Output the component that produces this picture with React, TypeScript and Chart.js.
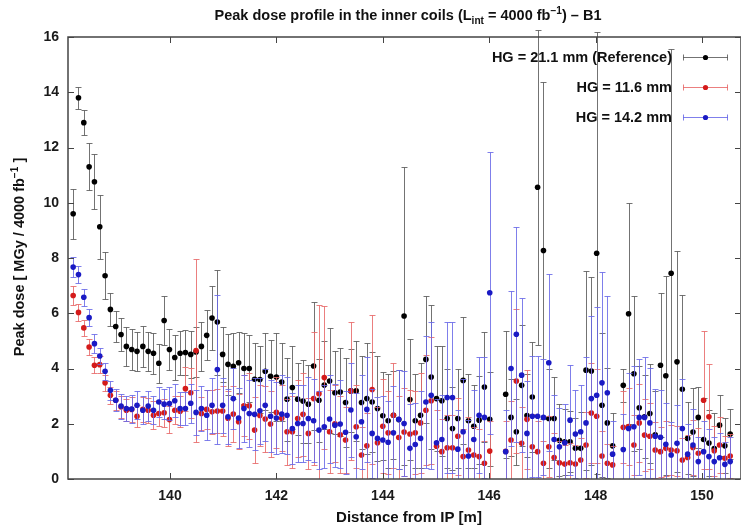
import React, { useEffect, useRef } from "react";
import { Chart, registerables } from "chart.js";

Chart.register(...registerables);

const FONT = '"Liberation Sans", Arial, Helvetica, sans-serif';

// Distance from IP [m] (bin centres); gaps where no values were given
const distances = [
  138.18, 138.28, 138.38, 138.48, 138.58, 138.68, 138.78, 138.88, 138.98, 139.08,
  139.18, 139.28, 139.38, 139.49, 139.59, 139.69, 139.79, 139.89, 139.99, 140.09,
  140.19, 140.29, 140.39, 140.49, 140.59, 140.69, 140.79, 140.89, 140.99, 141.09,
  141.19, 141.29, 141.39, 141.49, 141.59, 141.69, 141.79, 141.89, 142.0, 142.1,
  142.2, 142.3, 142.4, 142.5, 142.6, 142.7, 142.8, 142.9, 143.0, 143.1,
  143.2, 143.3, 143.4, 143.5, 143.6, 143.7, 143.8, 143.9, 144.0, 144.1,
  144.2, 144.3, 144.4, 144.51, 144.61, 144.71, 144.81, 144.91, 145.01, 145.11,
  145.21, 145.31, 145.41, 145.51, 145.61, 145.71, 145.81, 145.91, 146.01,
  146.31, 146.41, 146.51, 146.61, 146.71, 146.81, 146.91, 147.02, 147.12, 147.22,
  147.32, 147.42, 147.52, 147.62, 147.72, 147.82, 147.92, 148.02, 148.12, 148.22, 148.32,
  148.52, 148.62, 148.72, 148.82, 148.92, 149.02, 149.12, 149.22, 149.32, 149.42,
  149.53, 149.63, 149.73, 149.83, 149.93, 150.03, 150.13, 150.23, 150.33, 150.43, 150.53,
];

// HG = 21.1 mm (Reference)
const refDose = [
  9.6, 13.8, 12.9, 11.3, 10.76, 9.13, 7.36, 6.14, 5.52, 5.23,
  4.8, 4.69, 4.62, 4.8, 4.62, 4.55, 4.19, 5.74, 4.69, 4.4,
  4.55, 4.58, 4.51, 4.6, 4.8, 5.2, 5.83, 5.68, 4.51, 4.15,
  4.08, 4.21, 4.0, 4.0, 3.61, 3.6, 3.9, 3.72, 3.69, 3.51,
  2.89, 3.31, 2.89, 2.82, 2.71, 4.09, 2.85, 3.4, 3.55, 3.12,
  3.15, 2.77, 3.19, 3.19, 2.77, 2.91, 2.79, 2.55, 2.29, 2.11,
  2.31, 2.15, 5.9, 2.88, 2.11, 2.31, 4.33, 3.69, 2.91, 2.83,
  2.19, 1.83, 2.19, 3.57, 2.11, 1.91, 2.13, 3.33, 2.16,
  3.07, 2.23, 1.71, 3.39, 2.3, 2.97, 10.56, 8.27, 2.19, 2.19,
  1.4, 1.35, 1.35, 1.11, 1.11, 3.94, 3.91, 8.17, 2.67, 2.03, 1.2,
  3.39, 5.98, 3.81, 2.58, 2.25, 2.37, 1.6, 4.12, 3.74, 7.45,
  4.24, 3.25, 1.47, 1.7, 2.23, 1.43, 1.3, 1.1, 1.95, 1.2, 1.63,
];
const refErr = [
  0.9, 0.4, 0.45, 0.85, 1.0, 1.15, 0.85, 0.6, 0.55, 0.6,
  0.7, 0.75, 0.7, 0.75, 0.7, 0.75, 0.7, 0.9, 0.75, 0.8,
  0.8, 0.8, 0.85, 0.9, 0.9, 0.9, 1.15, 1.9, 1.0, 1.1,
  1.2, 1.1, 1.3, 1.2, 1.3, 1.2, 1.4, 1.3, 1.6, 1.4,
  1.5, 1.5, 1.3, 1.5, 1.4, 2.3, 1.5, 1.6, 1.9, 1.5,
  1.6, 1.6, 1.5, 1.8, 1.7, 2.0, 1.8, 1.9, 1.6, 1.7,
  1.6, 1.8, 5.4, 2.2, 1.7, 1.9, 2.3, 2.6, 1.9, 2.0,
  1.8, 1.5, 1.8, 2.3, 1.7, 1.5, 1.6, 2.0, 1.7,
  2.3, 1.4, 1.2, 2.2, 1.5, 2.0, 5.7, 6.1, 1.8, 1.5,
  1.3, 1.2, 1.1, 1.1, 1.3, 3.6, 3.4, 8.0, 2.6, 2.0, 1.2,
  0.6, 4.0, 2.8, 1.5, 1.5, 1.8, 1.6, 2.6, 3.6, 8.1,
  4.0, 3.4, 1.3, 1.6, 1.1, 1.5, 1.2, 1.3, 1.1, 1.0, 0.9,
];

// HG = 11.6 mm
const hg116Dose = [
  6.64, 6.03, 5.47, 4.78, 4.12, 4.14, 3.48, 3.03, 2.85, 2.61,
  2.49, 2.52, 2.27, 2.52, 2.49, 2.31, 2.37, 2.4, 2.15, 2.49,
  2.45, 3.27, 3.12, 4.65, 2.37, 2.52, 2.43, 2.46, 2.46, 2.2,
  2.35, 2.07, 2.65, 2.65, 1.77, 2.3, 2.17, 1.99, 2.41, 2.2,
  1.71, 1.71, 2.19, 2.34, 1.65, 2.91, 3.09, 3.67, 1.71, 2.0,
  1.6, 1.41, 3.19, 1.89, 0.87, 1.2, 3.24, 1.31, 1.91, 1.67,
  2.31, 1.5, 1.7, 1.63, 1.67, 2.03, 2.49, 2.83, 1.19, 0.99,
  1.13, 1.13, 1.55, 0.81, 1.05, 0.87, 0.81, 0.57, 1.01,
  1.0, 1.41, 3.55, 1.29, 2.16, 1.17, 0.99, 0.57, 1.17, 0.78,
  0.59, 0.54, 0.59, 0.54, 0.69, 1.23, 2.39, 2.27, 0.83, 0.57, 0.51,
  1.87, 1.9, 1.23, 2.03, 1.59, 1.55, 1.05, 0.99, 1.11, 1.05,
  1.02, 0.69, 0.78, 1.14, 0.93, 2.85, 2.25, 1.02, 1.23, 0.75, 0.83,
];
const hg116Err = [
  0.35, 0.3, 0.3, 0.3, 0.3, 0.3, 0.3, 0.3, 0.35, 0.4,
  0.4, 0.45, 0.4, 0.45, 0.45, 0.5, 0.45, 0.5, 0.5, 0.5,
  0.55, 0.8, 0.9, 3.3, 0.6, 0.7, 0.8, 0.8, 0.9, 1.0,
  1.0, 1.0, 1.1, 1.2, 1.2, 1.1, 1.2, 1.2, 1.3, 1.2,
  1.2, 1.3, 1.4, 1.5, 1.3, 2.4, 3.2, 2.6, 1.5, 1.4,
  1.4, 1.2, 2.5, 1.5, 1.0, 1.2, 2.7, 1.3, 1.7, 1.5,
  1.9, 1.5, 1.6, 1.6, 1.5, 1.8, 2.0, 2.3, 1.3, 1.2,
  1.2, 1.2, 1.4, 1.0, 1.2, 1.0, 1.0, 0.8, 1.1,
  1.1, 1.4, 2.6, 1.3, 1.8, 1.2, 1.1, 0.8, 1.1, 0.9,
  0.8, 0.7, 0.7, 0.7, 0.8, 1.2, 1.8, 1.7, 0.9, 0.7, 0.7,
  1.3, 1.4, 1.1, 1.4, 1.3, 1.2, 1.0, 0.9, 1.0, 0.9,
  0.9, 0.8, 0.8, 1.0, 0.9, 2.5, 1.9, 0.9, 1.0, 0.8, 0.8,
];

// HG = 14.2 mm
const hg142Dose = [
  7.67, 7.4, 6.58, 5.84, 4.9, 4.45, 3.9, 3.21, 2.85, 2.64,
  2.55, 2.53, 2.67, 2.49, 2.64, 2.49, 2.79, 2.71, 2.73, 2.83,
  2.55, 2.55, 2.74, 2.41, 2.55, 2.31, 2.67, 3.96, 2.67, 2.25,
  2.91, 2.21, 2.55, 2.37, 2.34, 2.47, 2.67, 2.27, 2.21, 2.35,
  2.31, 1.83, 2.01, 2.01, 2.19, 2.11, 1.77, 1.89, 2.17, 1.95,
  1.99, 1.69, 2.5, 1.53, 2.07, 2.52, 1.65, 1.47, 1.41, 1.33,
  1.67, 2.16, 2.01, 1.11, 1.25, 1.47, 2.79, 3.03, 1.31, 1.43,
  2.95, 2.95, 1.08, 1.71, 0.83, 1.43, 2.31, 2.23, 6.74,
  0.99, 4.0, 5.24, 3.76, 1.65, 2.27, 2.27, 2.23, 4.21, 1.43,
  1.17, 1.31, 2.13, 1.63, 1.71, 2.03, 2.91, 3.03, 3.48, 3.12, 0.9,
  1.07, 1.83, 1.89, 2.23, 2.23, 2.03, 1.55, 1.51, 1.26, 0.87,
  1.29, 1.83, 0.9, 1.23, 0.63, 0.99, 0.81, 0.63, 0.77, 0.53, 0.63,
];
const hg142Err = [
  0.35, 0.3, 0.3, 0.3, 0.35, 0.3, 0.3, 0.35, 0.4, 0.45,
  0.45, 0.5, 0.5, 0.5, 0.55, 0.5, 0.55, 0.55, 0.6, 0.6,
  0.6, 0.6, 0.7, 0.8, 0.8, 0.9, 1.0, 2.7, 1.0, 1.0,
  1.1, 1.1, 1.2, 1.2, 1.3, 1.2, 1.3, 1.3, 1.3, 1.4,
  1.4, 1.3, 1.4, 1.4, 1.5, 1.5, 1.4, 1.5, 1.6, 1.5,
  1.6, 1.5, 1.7, 1.6, 1.7, 1.9, 1.6, 1.5, 1.6, 1.5,
  1.7, 1.8, 1.9, 1.6, 1.5, 1.7, 2.4, 2.65, 1.6, 1.6,
  2.75, 2.75, 1.4, 1.9, 1.3, 1.8, 2.1, 2.2, 5.1,
  1.5, 2.8, 3.9, 2.8, 1.9, 2.2, 2.2, 2.1, 3.2, 1.6,
  1.4, 1.4, 2.0, 1.6, 1.7, 2.4, 3.0, 3.2, 4.0, 3.5, 1.2,
  1.3, 2.0, 2.2, 2.1, 2.2, 2.0, 1.7, 1.7, 1.5, 1.2,
  1.4, 1.8, 1.1, 1.3, 0.9, 1.1, 1.0, 0.9, 0.9, 0.8, 0.9,
];

const seriesLabels = ["HG = 21.1 mm (Reference)", "HG = 11.6 mm", "HG = 14.2 mm"];
const xTickValues = [140, 142, 144, 146, 148, 150];
const yTickValues = [0, 2, 4, 6, 8, 10, 12, 14, 16];
const xRange = [138.083, 150.733];
const yRange = [0, 16];

const pointColors = ["#000000", "#d41a1a", "#1a1ac4"];
const barColors = ["rgba(90,90,90,0.85)", "rgba(232,105,105,0.85)", "rgba(105,105,232,0.85)"];

type Part = { t: string; k: "n" | "sub" | "sup" };

function drawRich(ctx: CanvasRenderingContext2D, parts: Part[], x: number, y: number, size: number) {
  const measured = parts.map((p) => {
    const s = p.k === "n" ? size : size * 0.7;
    ctx.font = `bold ${s}px ${FONT}`;
    return { ...p, s, w: ctx.measureText(p.t).width };
  });
  const total = measured.reduce((a, m) => a + m.w, 0);
  let cx = x - total / 2;
  ctx.textAlign = "left";
  ctx.textBaseline = "alphabetic";
  for (const m of measured) {
    ctx.font = `bold ${m.s}px ${FONT}`;
    const dy = m.k === "sub" ? size * 0.3 : m.k === "sup" ? -size * 0.42 : 0;
    ctx.fillText(m.t, cx, y + dy);
    cx += m.w;
  }
}

const errorBarPlugin = {
  id: "errorBars",
  beforeDatasetDraw(chart: any, args: any) {
    const ds = chart.data.datasets[args.index];
    const errs: number[] = ds.errors;
    if (!errs) return;
    const { ctx, chartArea } = chart;
    const xs = chart.scales.x;
    const ys = chart.scales.y;
    ctx.save();
    ctx.beginPath();
    ctx.rect(chartArea.left, 0, chartArea.right - chartArea.left, chartArea.bottom);
    ctx.clip();
    ctx.strokeStyle = ds.barColor;
    ctx.lineWidth = 1;
    ds.data.forEach((p: any, i: number) => {
      const px = Math.round(xs.getPixelForValue(p.x)) + 0.5;
      const top = Math.round(ys.getPixelForValue(p.y + errs[i])) + 0.5;
      const bot = Math.round(ys.getPixelForValue(p.y - errs[i])) + 0.5;
      ctx.beginPath();
      ctx.moveTo(px, top);
      ctx.lineTo(px, bot);
      ctx.moveTo(px - 3, top);
      ctx.lineTo(px + 3, top);
      ctx.moveTo(px - 3, bot);
      ctx.lineTo(px + 3, bot);
      ctx.stroke();
    });
    ctx.restore();
  },
};

const framePlugin = {
  id: "frame",
  afterDraw(chart: any) {
    const { ctx, chartArea } = chart;
    const { left, right, top, bottom } = chartArea;
    const xs = chart.scales.x;
    const ys = chart.scales.y;
    ctx.save();
    ctx.strokeStyle = "#444";
    ctx.lineWidth = 1.5;
    ctx.strokeRect(left, top, right - left, bottom - top);
    ctx.lineWidth = 1;
    ctx.beginPath();
    for (const v of xTickValues) {
      const px = Math.round(xs.getPixelForValue(v)) + 0.5;
      ctx.moveTo(px, bottom);
      ctx.lineTo(px, bottom - 6);
      ctx.moveTo(px, top);
      ctx.lineTo(px, top + 6);
    }
    for (const v of yTickValues) {
      const py = Math.round(ys.getPixelForValue(v)) + 0.5;
      ctx.moveTo(left, py);
      ctx.lineTo(left + 6, py);
      ctx.moveTo(right - 1, py);
      ctx.lineTo(right - 6, py);
    }
    ctx.stroke();

    ctx.fillStyle = "#111";
    // title
    drawRich(
      ctx,
      [
        { t: "Peak dose profile in the inner coils (L", k: "n" },
        { t: "int", k: "sub" },
        { t: " = 4000 fb", k: "n" },
        { t: "\u22121", k: "sup" },
        { t: ") \u2013 B1", k: "n" },
      ],
      408,
      20,
      14.5
    );
    // x label
    drawRich(ctx, [{ t: "Distance from IP [m]", k: "n" }], 409, 522, 15);
    // y label
    ctx.save();
    ctx.translate(19, 257);
    ctx.rotate(-Math.PI / 2);
    drawRich(
      ctx,
      [
        { t: "Peak dose [ MGy / 4000 fb", k: "n" },
        { t: "\u22121", k: "sup" },
        { t: " ]", k: "n" },
      ],
      0,
      5,
      14.5
    );
    ctx.restore();

    // legend
    const rows = [57, 87, 117];
    seriesLabels.forEach((label, i) => {
      const y = rows[i];
      ctx.font = `bold 14.5px ${FONT}`;
      ctx.textAlign = "right";
      ctx.textBaseline = "middle";
      ctx.fillStyle = "#111";
      ctx.fillText(label, 672, y + 1);
      const yy = y + 0.5;
      ctx.strokeStyle = barColors[i];
      ctx.lineWidth = 1;
      ctx.beginPath();
      ctx.moveTo(683, yy);
      ctx.lineTo(728, yy);
      ctx.moveTo(683.5, yy - 3);
      ctx.lineTo(683.5, yy + 3);
      ctx.moveTo(727.5, yy - 3);
      ctx.lineTo(727.5, yy + 3);
      ctx.stroke();
      ctx.fillStyle = pointColors[i];
      ctx.beginPath();
      ctx.arc(705.5, yy, 2.6, 0, Math.PI * 2);
      ctx.fill();
    });
    ctx.restore();
  },
};

function toPoints(values: number[]) {
  return values.map((v, i) => ({ x: distances[i], y: v }));
}

export default function App() {
  const canvasRef = useRef<HTMLCanvasElement | null>(null);

  useEffect(() => {
    const canvas = canvasRef.current;
    if (!canvas) return;
    const series = [
      { dose: refDose, err: refErr, order: 3 },
      { dose: hg116Dose, err: hg116Err, order: 2 },
      { dose: hg142Dose, err: hg142Err, order: 1 },
    ];
    const tickFont = { family: FONT, size: 14, weight: "bold" as const };
    const chart = new Chart(canvas, {
      type: "scatter",
      data: {
        datasets: series.map((s, i) => ({
          label: seriesLabels[i],
          data: toPoints(s.dose),
          errors: s.err,
          barColor: barColors[i],
          order: s.order,
          pointRadius: 2.8,
          pointBackgroundColor: pointColors[i],
          pointBorderColor: pointColors[i],
          pointBorderWidth: 0,
          showLine: false,
        })) as any,
      },
      options: {
        responsive: false,
        animation: false,
        devicePixelRatio: 1,
        events: [],
        layout: { autoPadding: false, padding: { top: 37, right: 0, left: 0, bottom: 0 } },
        plugins: {
          legend: { display: false },
          tooltip: { enabled: false },
          title: { display: false },
        },
        scales: {
          x: {
            type: "linear",
            min: xRange[0],
            max: xRange[1],
            afterBuildTicks: (s: any) => {
              s.ticks = xTickValues.map((v) => ({ value: v }));
            },
            afterFit: (s: any) => {
              s.height = 50;
              s.paddingLeft = 0;
              s.paddingRight = 0;
            },
            grid: { display: false, drawTicks: false },
            border: { display: false },
            ticks: { font: tickFont, color: "#1a1a1a", padding: 9, maxRotation: 0, autoSkip: false },
          },
          y: {
            type: "linear",
            min: yRange[0],
            max: yRange[1],
            afterBuildTicks: (s: any) => {
              s.ticks = yTickValues.map((v) => ({ value: v }));
            },
            afterFit: (s: any) => {
              s.width = 68;
            },
            grid: { display: false, drawTicks: false },
            border: { display: false },
            ticks: { font: tickFont, color: "#1a1a1a", padding: 9, autoSkip: false },
          },
        },
      },
      plugins: [errorBarPlugin, framePlugin],
    } as any);
    return () => chart.destroy();
  }, []);

  return (
    <div style={{ position: "absolute", left: 0, top: 0, width: 741, height: 529, background: "#fff" }}>
      <canvas ref={canvasRef} width={741} height={529} style={{ display: "block" }} />
    </div>
  );
}
